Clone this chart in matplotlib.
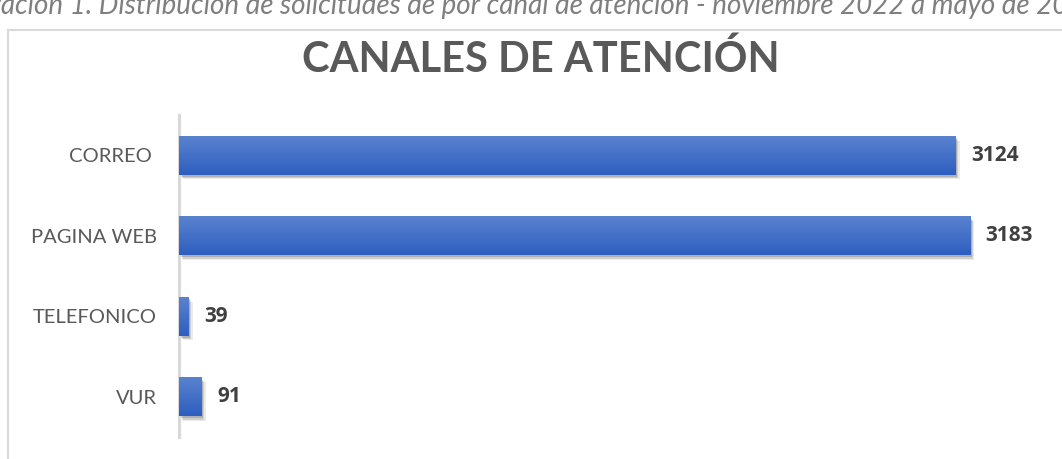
import matplotlib.pyplot as plt
import matplotlib.patheffects as pe
from matplotlib.patches import Rectangle
from matplotlib.colors import LinearSegmentedColormap
import numpy as np

# data (top to bottom)
canales = ["CORREO ", "PAGINA WEB", "TELEFONICO", "VUR"]
solicitudes = [3124, 3183, 39, 91]

TITLE = "CANALES DE ATENCIÓN"
CAPTION = ("Ilustración 1. Distribución de solicitudes de por canal de atención "
           "- noviembre 2022 a mayo de 2023")

W, H = 1062, 459
fig = plt.figure(figsize=(W / 100, H / 100), dpi=100)


def px(x0, y0, w, h):
    # pixel box (top-left origin) -> figure fraction rect
    return [x0 / W, 1 - (y0 + h) / H, w / W, h / H]


# chart frame (runs off the right/bottom like the screenshot)
fig.add_artist(plt.Line2D([8 / W, 8 / W], [0, 1 - 30 / H], color="#d9d9d9", lw=1.5))
fig.add_artist(plt.Line2D([8 / W, 1], [1 - 30 / H, 1 - 30 / H], color="#d9d9d9", lw=1.5))

# caption above the chart, cropped at the top in the screenshot
fig.text(-58 / W, 1 - 14 / H, CAPTION, fontsize=20, style="italic",
         color="#7f7f7f", family="Lato", va="baseline", ha="left")

fig.text(541 / W, 1 - 72 / H, TITLE, fontsize=30, fontweight="bold",
         color="#595959", family="Lato", ha="center", va="baseline")

ax = fig.add_axes(px(179, 115, 870, 322))

y = np.arange(len(canales))
bar_h = 0.48

grad = np.linspace(0, 1, 64).reshape(-1, 1)
cmap = LinearSegmentedColormap.from_list("bar", ["#5a82cf", "#2d5ec0"])

for yi, v in zip(y, solicitudes):
    bar = Rectangle((0, yi - bar_h / 2), v, bar_h, facecolor="#4472c4",
                    edgecolor="none", zorder=2)
    bar.set_path_effects([
        pe.SimplePatchShadow(offset=(3, -3.5), shadow_rgbFace="#000000", alpha=0.08),
        pe.SimplePatchShadow(offset=(2, -2.5), shadow_rgbFace="#000000", alpha=0.12),
        pe.SimplePatchShadow(offset=(1, -1.5), shadow_rgbFace="#000000", alpha=0.15),
        pe.Normal(),
    ])
    ax.add_patch(bar)
    ax.imshow(grad, extent=(0, v, yi + bar_h / 2, yi - bar_h / 2), cmap=cmap,
              aspect="auto", interpolation="bicubic", zorder=3)
    ax.annotate(str(v), (v, yi), xytext=(11, 0), textcoords="offset points",
                va="center", ha="left", fontsize=15, fontweight="bold",
                color="#404040", family="Open Sans")

ax.set_xlim(0, 3500)
ax.set_ylim(len(canales) - 0.5, -0.5)
ax.set_yticks(y)
ax.set_yticklabels(canales, fontsize=14.5, color="#595959", family="Lato",
                   fontweight="normal")
ax.tick_params(axis="y", length=0, pad=16)
ax.set_xticks([])
for s in ["top", "right", "bottom"]:
    ax.spines[s].set_visible(False)
ax.spines["left"].set_color("#d9d9d9")
ax.spines["left"].set_linewidth(2.2)

fig.savefig("out.png", dpi=100)
